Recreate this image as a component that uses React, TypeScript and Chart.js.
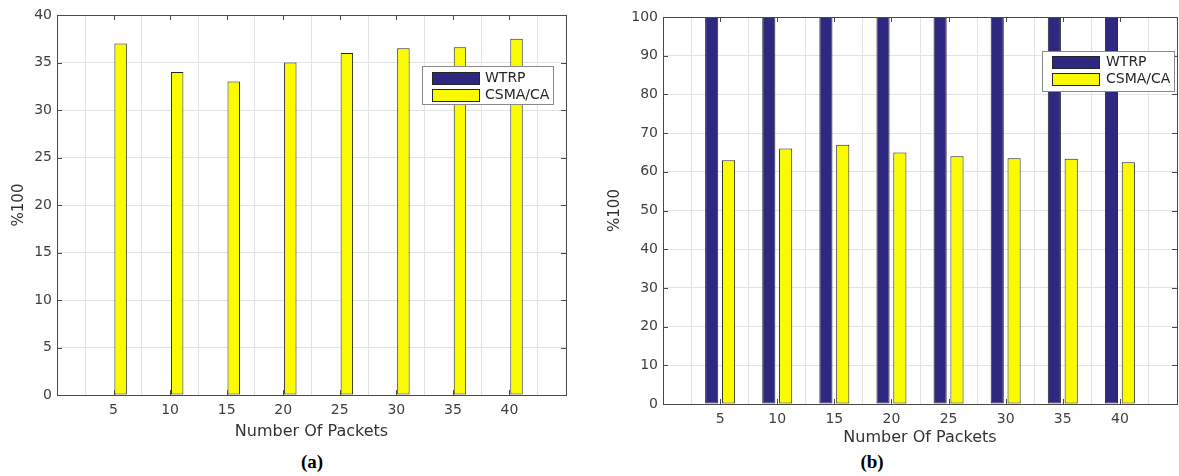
import React, { useEffect, useRef } from 'react';
import { Chart, registerables } from 'chart.js';

Chart.register(...registerables);

// ---------- data ----------
const packetCounts = ['5', '10', '15', '20', '25', '30', '35', '40'];
const seriesNames = ['WTRP', 'CSMA/CA'];
const wtrpA = [0, 0, 0, 0, 0, 0, 0, 0];
const csmaA = [37, 34, 33, 35, 36, 36.5, 36.6, 37.5];
const wtrpB = [100, 100, 100, 100, 100, 100, 100, 100];
const csmaB = [63, 66, 67, 65, 64, 63.5, 63.4, 62.5];
const yRangeA = [0, 40, 5];
const yRangeB = [0, 100, 10];
const yTitle = '%100';
const xTitle = 'Number Of Packets';
const captions = ['(a)', '(b)'];

const WTRP_COLOR = 'rgb(47, 40, 128)';
const CSMA_COLOR = 'rgb(250, 250, 0)';
const FONT = '"DejaVu Sans", "Liberation Sans", sans-serif';

const framePlugin = {
  id: 'matlabFrame',
  afterDraw(chart: any, _args: any, opts: any) {
    const { ctx, chartArea: a, scales } = chart;
    const xs = scales.x;
    const ys = scales.y;
    ctx.save();
    ctx.strokeStyle = '#4a4a4a';
    ctx.lineWidth = 1;
    const len = 5;
    ctx.beginPath();
    xs.ticks.forEach((t: any, i: number) => {
      if (!t.label) return;
      const px = Math.round(xs.getPixelForTick(i)) + 0.5;
      ctx.moveTo(px, a.bottom);
      ctx.lineTo(px, a.bottom - len);
      ctx.moveTo(px, a.top);
      ctx.lineTo(px, a.top + len);
    });
    ys.ticks.forEach((_t: any, i: number) => {
      const py = Math.round(ys.getPixelForTick(i)) + 0.5;
      ctx.moveTo(a.left, py);
      ctx.lineTo(a.left + len, py);
      ctx.moveTo(a.right, py);
      ctx.lineTo(a.right - len, py);
    });
    ctx.stroke();
    ctx.strokeRect(
      Math.round(a.left) + 0.5,
      Math.round(a.top) + 0.5,
      Math.round(a.right - a.left),
      Math.round(a.bottom - a.top)
    );

    const L = opts.legend;
    if (L) {
      ctx.fillStyle = '#ffffff';
      ctx.fillRect(L.x, L.y, L.w, L.h);
      ctx.strokeStyle = '#8a8a8a';
      ctx.strokeRect(L.x + 0.5, L.y + 0.5, L.w, L.h);
      chart.data.datasets.forEach((ds: any, i: number) => {
        const cy = L.y + L.row0 + i * L.rowGap;
        ctx.fillStyle = ds.backgroundColor;
        ctx.fillRect(L.x + L.sx, Math.round(cy - 6.5), 48, 13);
        ctx.strokeStyle = '#262626';
        ctx.strokeRect(L.x + L.sx + 0.5, Math.round(cy - 6.5) + 0.5, 47, 12);
        ctx.fillStyle = '#262626';
        ctx.font = '14px ' + FONT;
        ctx.textBaseline = 'middle';
        ctx.textAlign = 'left';
        ctx.fillText(ds.label, L.x + L.tx, cy);
      });
    }
    ctx.restore();
  },
};

type PanelProps = {
  left: number;
  width: number;
  height: number;
  wtrp: number[];
  csma: number[];
  yRange: number[];
  yAxisWidth: number;
  xAxisHeight: number;
  padTop: number;
  padRight: number;
  titleOffset: number;
  catPct: number;
  barPct: number;
  legend: any;
};

function Panel(p: PanelProps) {
  const ref = useRef<HTMLCanvasElement | null>(null);
  useEffect(() => {
    if (!ref.current) return;
    const labels = ['', ...packetCounts, ''];
    const pad = (v: number[]) => [null, ...v, null];
    const chart = new Chart(ref.current, {
      type: 'bar',
      data: {
        labels,
        datasets: [
          {
            label: seriesNames[0],
            data: pad(p.wtrp) as any,
            backgroundColor: WTRP_COLOR,
            borderColor: '#262626',
            borderWidth: 1,
            borderSkipped: false,
            categoryPercentage: p.catPct,
            barPercentage: p.barPct,
          },
          {
            label: seriesNames[1],
            data: pad(p.csma) as any,
            backgroundColor: CSMA_COLOR,
            borderColor: '#262626',
            borderWidth: 1,
            borderSkipped: false,
            categoryPercentage: p.catPct,
            barPercentage: p.barPct,
          },
        ],
      },
      options: {
        responsive: false,
        animation: false,
        devicePixelRatio: 1,
        layout: { padding: { top: p.padTop, right: p.padRight, left: 0, bottom: 0 } },
        plugins: {
          legend: { display: false },
          tooltip: { enabled: false },
          matlabFrame: { legend: p.legend },
        } as any,
        scales: {
          x: {
            type: 'category',
            offset: false,
            grid: { color: '#e3e3e3', drawTicks: false },
            border: { display: false },
            ticks: {
              autoSkip: false,
              maxRotation: 0,
              padding: 7,
              color: '#404040',
              font: { family: FONT, size: 14 },
            },
            title: {
              display: true,
              text: xTitle,
              color: '#333333',
              font: { family: FONT, size: 16 },
              padding: { top: 0, bottom: 0 },
            },
            afterFit: (axis: any) => {
              axis.height = p.xAxisHeight;
            },
          },
          y: {
            min: p.yRange[0],
            max: p.yRange[1],
            grid: { color: '#e3e3e3', drawTicks: false },
            border: { display: false },
            ticks: {
              stepSize: p.yRange[2],
              padding: 5,
              color: '#404040',
              font: { family: FONT, size: 14 },
            },
            title: {
              display: true,
              text: yTitle,
              color: '#333333',
              font: { family: FONT, size: 15 },
              padding: { top: p.titleOffset, bottom: 0 },
            },
            afterFit: (axis: any) => {
              axis.width = p.yAxisWidth;
            },
          },
        },
      },
      plugins: [framePlugin as any],
    });
    return () => chart.destroy();
  }, []);
  return (
    <canvas
      ref={ref}
      width={p.width}
      height={p.height}
      style={{ position: 'absolute', left: p.left, top: 0, width: p.width, height: p.height }}
    />
  );
}

const captionStyle: React.CSSProperties = {
  position: 'absolute',
  top: 450,
  width: 60,
  textAlign: 'center',
  fontFamily: '"Liberation Serif", "Times New Roman", serif',
  fontWeight: 'bold',
  fontSize: 19,
  lineHeight: '24px',
  color: '#000',
};

export default function App() {
  return (
    <div style={{ position: 'absolute', left: 0, top: 0, width: 1179, height: 476, background: '#fff', overflow: 'hidden' }}>
      <Panel
        left={0}
        width={590}
        height={441}
        wtrp={wtrpA}
        csma={csmaA}
        yRange={yRangeA}
        yAxisWidth={57}
        xAxisHeight={46}
        padTop={15}
        padRight={24}
        titleOffset={10}
        catPct={0.5}
        barPct={0.88}
        legend={{ x: 422, y: 66, w: 131, h: 38, sx: 10, tx: 63, row0: 12.5, rowGap: 17 }}
      />
      <Panel
        left={600}
        width={600}
        height={447}
        wtrp={wtrpB}
        csma={csmaB}
        yRange={yRangeB}
        yAxisWidth={63}
        xAxisHeight={43}
        padTop={17}
        padRight={23}
        titleOffset={6}
        catPct={0.59}
        barPct={0.78}
        legend={{ x: 442, y: 51, w: 132, h: 40, sx: 10, tx: 64, row0: 11.5, rowGap: 16.5 }}
      />
      <div style={{ ...captionStyle, left: 312 - 30 }}>{captions[0]}</div>
      <div style={{ ...captionStyle, left: 872 - 30 }}>{captions[1]}</div>
    </div>
  );
}
